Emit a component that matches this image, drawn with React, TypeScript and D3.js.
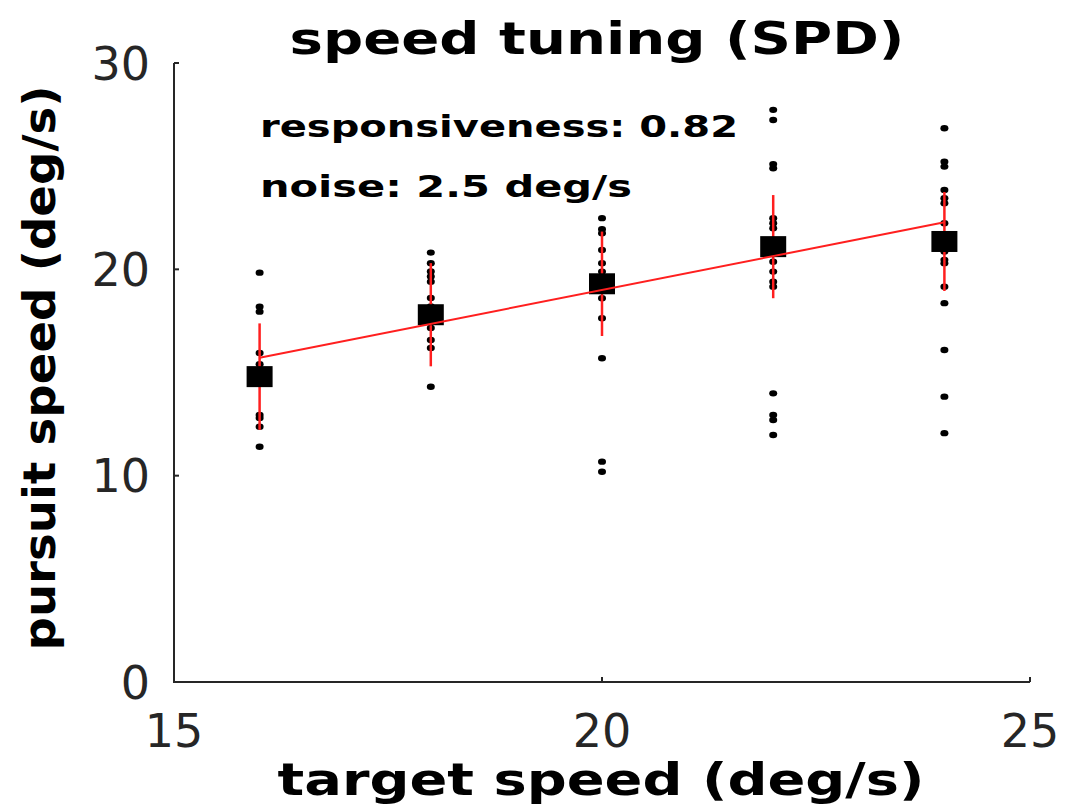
import * as d3 from "d3"

// target speeds (deg/s) and per-speed summary
const targetSpeeds = [16, 18, 20, 22, 24]
const meanPursuit = [14.8, 17.8, 19.3, 21.1, 21.35]
const sdPursuit = [2.58, 2.5, 2.53, 2.5, 2.4]

// single trials for each target speed
const trials16 = [19.84, 18.19, 17.95, 15.95, 15.4, 14.9, 14.5, 12.94, 12.8, 12.37, 11.4]
const trials18 = [20.81, 20.3, 19.9, 19.65, 19.4, 18.61, 18.2, 17.6, 17.16, 16.58, 16.19, 14.31]
const trials20 = [22.48, 21.94, 21.75, 20.94, 20.3, 19.89, 19.3, 18.6, 17.63, 15.69, 10.68, 10.19]
const trials22 = [27.73, 27.24, 25.1, 24.9, 22.48, 22.23, 21.99, 21.2, 20.37, 19.89, 19.4, 19.16, 13.99, 12.94, 12.7, 11.97]
const trials24 = [26.84, 25.22, 24.98, 23.85, 23.45, 23.2, 22.23, 21.5, 20.86, 20.46, 20.3, 19.16, 18.36, 16.09, 13.83, 12.06]
const trialsBySpeed = [trials16, trials18, trials20, trials22, trials24]

// linear fit
const slope = 0.82
const intercept = 2.6
const noise = 2.5

const xTicks = [15, 20, 25]
const yTicks = [0, 10, 20, 30]

const W = 1067
const H = 807
const left = 174
const right = 1030
const top = 63
const bottom = 682
const axisColor = "#262626"
const red = "#ff1f1f"
const font = "'DejaVu Sans', sans-serif"

export default function App() {
  const x = d3.scaleLinear().domain([15, 25]).range([left, right])
  const y = d3.scaleLinear().domain([0, 30]).range([bottom, top])

  const fitX = [d3.min(targetSpeeds)!, d3.max(targetSpeeds)!]
  const fitLine = d3
    .line<number>()
    .x((d) => x(d))
    .y((d) => y(intercept + slope * d))

  return (
    <svg
      width={W}
      height={H}
      style={{ position: "fixed", left: 0, top: 0, background: "#fff" }}
    >
      {/* title */}
      <text
        x={597}
        y={54}
        textAnchor="middle"
        fontFamily={font}
        fontWeight="bold"
        fontSize={44}
        textLength={615}
        lengthAdjust="spacingAndGlyphs"
        fill="#000"
      >
        speed tuning (SPD)
      </text>

      {/* axes */}
      <path d={`M${left},${top}V${bottom}H${right}`} fill="none" stroke={axisColor} strokeWidth={2} />
      {yTicks.map((t) => (
        <g key={"y" + t}>
          <line x1={left} x2={left + 5} y1={y(t)} y2={y(t)} stroke={axisColor} strokeWidth={2} />
          <text
            x={150}
            y={y(t)}
            dy="0.36em"
            textAnchor="end"
            fontFamily={font}
            fontSize={46}
            fill={axisColor}
          >
            {t}
          </text>
        </g>
      ))}
      {xTicks.map((t) => (
        <g key={"x" + t}>
          <line x1={x(t)} x2={x(t)} y1={bottom} y2={bottom - 5} stroke={axisColor} strokeWidth={2} />
          <text
            x={x(t)}
            y={747}
            textAnchor="middle"
            fontFamily={font}
            fontSize={46}
            fill={axisColor}
          >
            {t}
          </text>
        </g>
      ))}

      {/* axis labels */}
      <text
        x={601}
        y={795}
        textAnchor="middle"
        fontFamily={font}
        fontWeight="bold"
        fontSize={45}
        textLength={647}
        lengthAdjust="spacingAndGlyphs"
        fill="#000"
      >
        target speed (deg/s)
      </text>
      <text
        transform={`translate(55,368) rotate(-90)`}
        textAnchor="middle"
        fontFamily={font}
        fontWeight="bold"
        fontSize={45}
        textLength={565}
        lengthAdjust="spacingAndGlyphs"
        fill="#000"
      >
        pursuit speed (deg/s)
      </text>

      {/* annotations */}
      <text
        x={260}
        y={137}
        fontFamily={font}
        fontWeight="bold"
        fontSize={31}
        textLength={478}
        lengthAdjust="spacingAndGlyphs"
        fill="#000"
      >
        responsiveness: {slope.toFixed(2)}
      </text>
      <text
        x={260}
        y={197}
        fontFamily={font}
        fontWeight="bold"
        fontSize={31}
        textLength={372}
        lengthAdjust="spacingAndGlyphs"
        fill="#000"
      >
        noise: {noise.toFixed(1)} deg/s
      </text>

      {/* single trials */}
      {trialsBySpeed.map((trials, i) =>
        trials.map((v, j) => (
          <ellipse key={`t${i}-${j}`} cx={x(targetSpeeds[i])} cy={y(v)} rx={4} ry={3.2} fill="#000" />
        )),
      )}

      {/* error bars */}
      {targetSpeeds.map((s, i) => (
        <line
          key={"e" + s}
          x1={x(s)}
          x2={x(s)}
          y1={y(meanPursuit[i] + sdPursuit[i])}
          y2={y(meanPursuit[i] - sdPursuit[i])}
          stroke={red}
          strokeWidth={2.5}
        />
      ))}

      {/* means */}
      {targetSpeeds.map((s, i) => (
        <rect key={"m" + s} x={x(s) - 13} y={y(meanPursuit[i]) - 10.5} width={26} height={21} fill="#000" />
      ))}

      {/* fit */}
      <path d={fitLine(fitX) ?? ""} fill="none" stroke={red} strokeWidth={2} />
    </svg>
  )
}
